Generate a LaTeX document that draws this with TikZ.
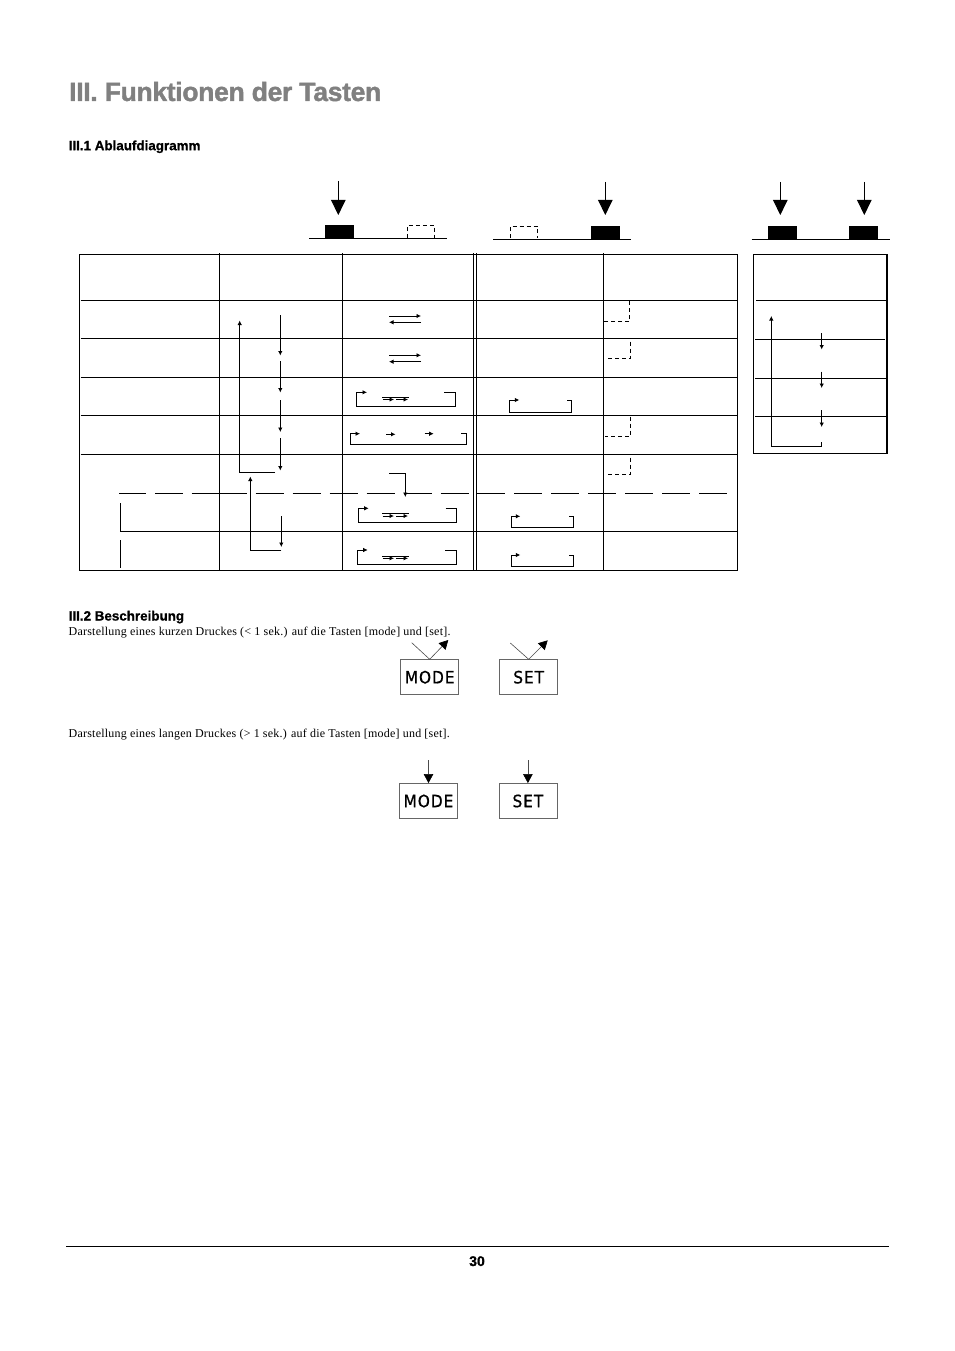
\documentclass[tikz,border=0pt]{standalone}
\usepackage{fontspec}
\setmainfont{Liberation Serif}
\setsansfont{Liberation Sans}
\newfontfamily\keyfont[LetterSpace=6,FakeBold=0.8]{DejaVu Sans Condensed}
\usetikzlibrary{arrows.meta,positioning}
\definecolor{titlegray}{gray}{0.5}
\tikzset{
  rule/.style={line width=1pt},
  thin rule/.style={line width=0.8pt},
  smallarrow/.style={line width=0.85pt,-{Latex[length=4.5pt,width=4.5pt]}},
  pressarrow/.style={line width=0.9pt,-{Triangle[length=15pt,width=14.5pt]}},
  keyarrow/.style={line width=0.6pt,draw=black!70,-{Triangle[length=9pt,width=9.5pt,color=black,fill=black]}},
  dashkey/.style={line width=0.8pt,dash pattern=on 4pt off 3pt},
  blackkey/.style={fill=black,inner sep=0pt,minimum width=28.5pt,minimum height=13.5pt,anchor=south west},
  keybox/.style={draw=black!60,line width=0.8pt,inner sep=0pt,minimum width=58pt,minimum height=35pt,
    font=\keyfont\fontsize{17}{17}\selectfont},
  headline/.style={anchor=base west,inner sep=0pt,font=\sffamily\bfseries\fontsize{13.4}{15}\selectfont\addfontfeature{FakeBold=1,LetterSpace=0}},
  bodyline/.style={anchor=base west,inner sep=0pt,font=\fontsize{12}{14}\selectfont\addfontfeature{LetterSpace=1.8}},
}
\begin{document}
\begin{tikzpicture}[x=1pt,y=-1pt]
  \useasboundingbox (0,0) rectangle (954,1351);
  % headings
  \node[anchor=base west,inner sep=0pt,text=titlegray,font=\sffamily\bfseries\fontsize{26.5}{30}\selectfont] (title) at (69,101) {\addfontfeature{LetterSpace=-1.2,FakeBold=1.5}III. Funktionen der Tasten};
  \node[headline] (headA) at (68.5,150.2) {III.1 Ablaufdiagramm};
  \node[headline] (headB) at (68.5,620.5) {III.2 Beschreibung};
  \node[bodyline] (bodyA) at (68.5,635.5) {Darstellung eines kurzen Druckes (< 1 sek.) auf die Tasten [mode] und [set].};
  \node[bodyline] (bodyB) at (68.5,737) {Darstellung eines langen Druckes (> 1 sek.) auf die Tasten [mode] und [set].};

  % keys above the tables
  \draw[rule] (309,238.5) -- (447.3,238.5);
  \draw[rule] (493.3,239.5) -- (631.3,239.5);
  \draw[rule] (751.7,239.5) -- (890,239.5);
  \node[blackkey] (keyA) at (325,238.5) {};
  \node[blackkey] (keyB) at (591,239.5) {};
  \node[blackkey] (keyC) at (768,239.5) {};
  \node[blackkey] (keyD) at (849,239.5) {};
  \draw[dashkey] (407.3,238) -- (407.3,225.5) -- (434.7,225.5) -- (434.7,238);
  \draw[dashkey] (510,238) -- (510,226.5) -- (537.7,226.5) -- (537.7,238);
  \coordinate (pressA) at (338.3,181);
  \coordinate (pressB) at (605.3,182);
  \coordinate (pressC) at (780.3,182);
  \coordinate (pressD) at (864.3,182);
  \draw[pressarrow] (pressA) -- (338.3,215);
  \draw[pressarrow] (pressB) -- (605.3,215);
  \draw[pressarrow] (pressC) -- (780.3,215);
  \draw[pressarrow] (pressD) -- (864.3,215);

  % main table
  \draw[rule] (79.5,254.3) rectangle (737.3,570.3);
  \foreach \y in {300.3,338.3,377.3,415.3,454.3}
    \draw[rule] (80.7,\y) -- (737.3,\y);
  \draw[rule] (120.3,531.3) -- (737.3,531.3);
  \foreach \x in {219.3,342.3,473.7,476.7,603.3}
    \draw[rule] (\x,253) -- (\x,570.3);
  \foreach \a/\b in {119.3/145.7,155/182.7,191.7/247.3,255.7/284,292.7/320.7,329.7/357.7,366.7/395,405/431.7,440.7/468.7,476.7/505,514/541.7,551/579,588/616,625/652.7,662/690,699/727}
    \draw[rule] (\a,493.3) -- (\b,493.3);
  \draw[rule] (120.3,503.3) -- (120.3,531.3);
  \draw[rule] (120.3,540) -- (120.3,567.7);

  % mode sequence
  \draw[smallarrow] (275,472.7) -- (239.7,472.7) -- (239.7,320.5);
  \foreach \a/\b in {315/355.5,361/392.5,400/432,438.3/470.5}
    \draw[smallarrow] (280.3,\a) -- (280.3,\b);
  \draw[smallarrow] (281.3,550.3) -- (250.3,550.3) -- (250.3,476.5);
  \draw[smallarrow] (281.3,516) -- (281.3,547);

  % column three
  \draw[smallarrow] (389,316) -- (421,316);
  \draw[smallarrow] (421,322.3) -- (389,322.3);
  \draw[smallarrow] (389,355.3) -- (421,355.3);
  \draw[smallarrow] (421,361.7) -- (389,361.7);
  \draw[smallarrow] (444,392.3) -- (455.7,392.3) -- (455.7,406.7) -- (356.3,406.7) -- (356.3,392.3) -- (367,392.3);
  \draw[smallarrow] (461,433.7) -- (466.7,433.7) -- (466.7,444.3) -- (350.3,444.3) -- (350.3,433.7) -- (360,433.7);
  \draw[smallarrow] (386,434.3) -- (395.5,434.3);
  \draw[smallarrow] (424.7,433.7) -- (433.7,433.7);
  \draw[smallarrow] (389,473.3) -- (405.3,473.3) -- (405.3,497);
  \draw[smallarrow] (445.7,508.3) -- (456.7,508.3) -- (456.7,522.3) -- (358.3,522.3) -- (358.3,508.3) -- (368.7,508.3);
  \draw[smallarrow] (445,550) -- (456,550) -- (456,564.3) -- (357.3,564.3) -- (357.3,550) -- (367.7,550);
  % small double arrows
  \foreach \y/\z in {397.2/399.5,513/516,556/558.3}{
    \draw[thin rule] (382,\y) -- (408.5,\y);
    \draw[smallarrow] (382.5,\z) -- (394,\z);
    \draw[smallarrow] (396,\z) -- (408,\z);
  }

  % column four
  \draw[smallarrow] (567.3,400) -- (571.7,400) -- (571.7,412.3) -- (509.3,412.3) -- (509.3,400) -- (519.3,400);
  \draw[smallarrow] (569,516.3) -- (573.3,516.3) -- (573.3,527.3) -- (511.3,527.3) -- (511.3,516.3) -- (520.3,516.3);
  \draw[smallarrow] (569,555) -- (573.3,555) -- (573.3,566.7) -- (511.3,566.7) -- (511.3,555) -- (520.3,555);

  % column five
  \draw[dashkey] (629.3,301) -- (629.3,321.7) -- (603.3,321.7);
  \draw[dashkey] (630.3,341.7) -- (630.3,358.3) -- (605,358.3);
  \draw[dashkey] (630.3,416.7) -- (630.3,436.3) -- (605,436.3);
  \draw[dashkey] (630.3,457.7) -- (630.3,474.3) -- (605,474.3);

  % second table
  \draw[rule] (753.3,254.3) -- (887,254.3);
  \draw[rule] (753.3,254.3) -- (753.3,453.3) -- (887,453.3);
  \draw[line width=1.4pt] (887,254.3) -- (887,453.8);
  \draw[rule] (756,300.3) -- (886,300.3);
  \draw[rule] (755,339.3) -- (885,339.3);
  \draw[rule] (755,378.3) -- (886,378.3);
  \draw[rule] (755,416.3) -- (886,416.3);
  \draw[smallarrow] (821.7,442.3) -- (821.7,446) -- (771.3,446) -- (771.3,316);
  \foreach \a/\b in {333.3/349.5,371.7/388,410/427}
    \draw[smallarrow] (821.7,\a) -- (821.7,\b);

  % key pictures
  \node[keybox] (modeshort) at (429.7,677.2) {MODE};
  \node[keybox] (setshort) at (528.7,677.2) {SET};
  \node[keybox] (modelong) at (428.5,801) {MODE};
  \node[keybox] (setlong) at (527.9,801) {SET};
  \coordinate (modeshortin) at (411.7,642.7);
  \coordinate (modeshortout) at (448.3,640);
  \coordinate (setshortin) at (510.3,643);
  \coordinate (setshortout) at (547.7,640.3);
  \draw[keyarrow] (modeshortin) -- (modeshort.north) -- (modeshortout);
  \draw[keyarrow] (setshortin) -- (setshort.north) -- (setshortout);
  \coordinate (modelongin) at (428.5,760);
  \coordinate (setlongin) at (527.9,760);
  \draw[keyarrow] (modelongin) -- (modelong.north);
  \draw[keyarrow] (setlongin) -- (setlong.north);

  % footer
  \draw[rule] (66,1246.3) -- (889,1246.3);
  \node[anchor=base,inner sep=0pt,font=\sffamily\bfseries\fontsize{14}{15}\selectfont\addfontfeature{FakeBold=1}] (pagenum) at (477,1266) {30};
\end{tikzpicture}
\end{document}
